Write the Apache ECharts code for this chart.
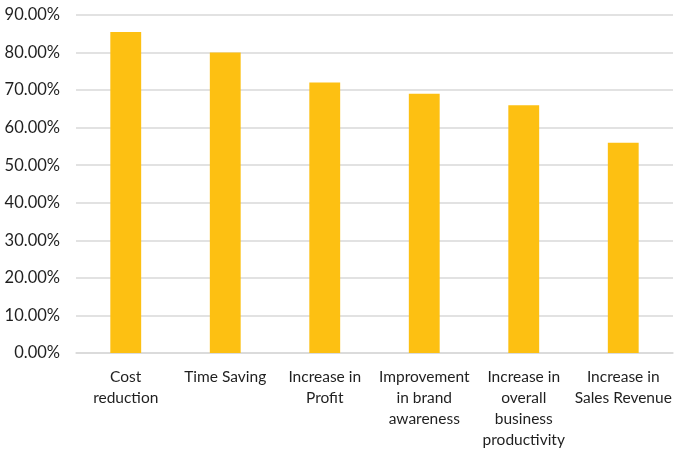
<!DOCTYPE html>
<html>
<head>
<meta charset="utf-8">
<script src="https://cdn.jsdelivr.net/npm/echarts@6/dist/echarts.min.js"></script>
<style>
  html, body { margin: 0; padding: 0; background: #fff; }
  #chart { width: 675px; height: 450px; }
</style>
</head>
<body>
<div id="chart"></div>
<script>
// Reported benefits, share of respondents (%)
const categories = [
  'Cost\nreduction',
  'Time Saving',
  'Increase in\nProfit',
  'Improvement\nin brand\nawareness',
  'Increase in\noverall\nbusiness\nproductivity',
  'Increase in\nSales Revenue'
];
const values = [85.5, 80, 72, 69, 66, 56];

const chart = echarts.init(document.getElementById('chart'), null, { renderer: 'canvas' });
const font = 'Lato, "Open Sans", sans-serif';

chart.setOption({
  animation: false,
  grid: { left: 76, right: 2, top: 15, bottom: 96 },
  xAxis: {
    type: 'category',
    data: categories,
    axisLine: { show: true, lineStyle: { color: '#d9d9d9', width: 1.5 } },
    axisTick: { show: false },
    axisLabel: {
      interval: 0,
      margin: 13,
      color: '#1f1f1f',
      fontFamily: font,
      fontSize: 15.5,
      lineHeight: 21
    }
  },
  yAxis: {
    type: 'value',
    min: 0,
    max: 90,
    interval: 10,
    axisLine: { show: false },
    axisTick: { show: false },
    splitLine: { lineStyle: { color: '#d9d9d9', width: 1.5 } },
    axisLabel: {
      margin: 16,
      color: '#1f1f1f',
      fontFamily: font,
      fontSize: 16.5,
      formatter: v => v.toFixed(2) + '%'
    }
  },
  series: [{
    type: 'bar',
    data: values,
    barWidth: '31%',
    itemStyle: { color: '#FDC012' }
  }]
});
</script>
</body>
</html>
